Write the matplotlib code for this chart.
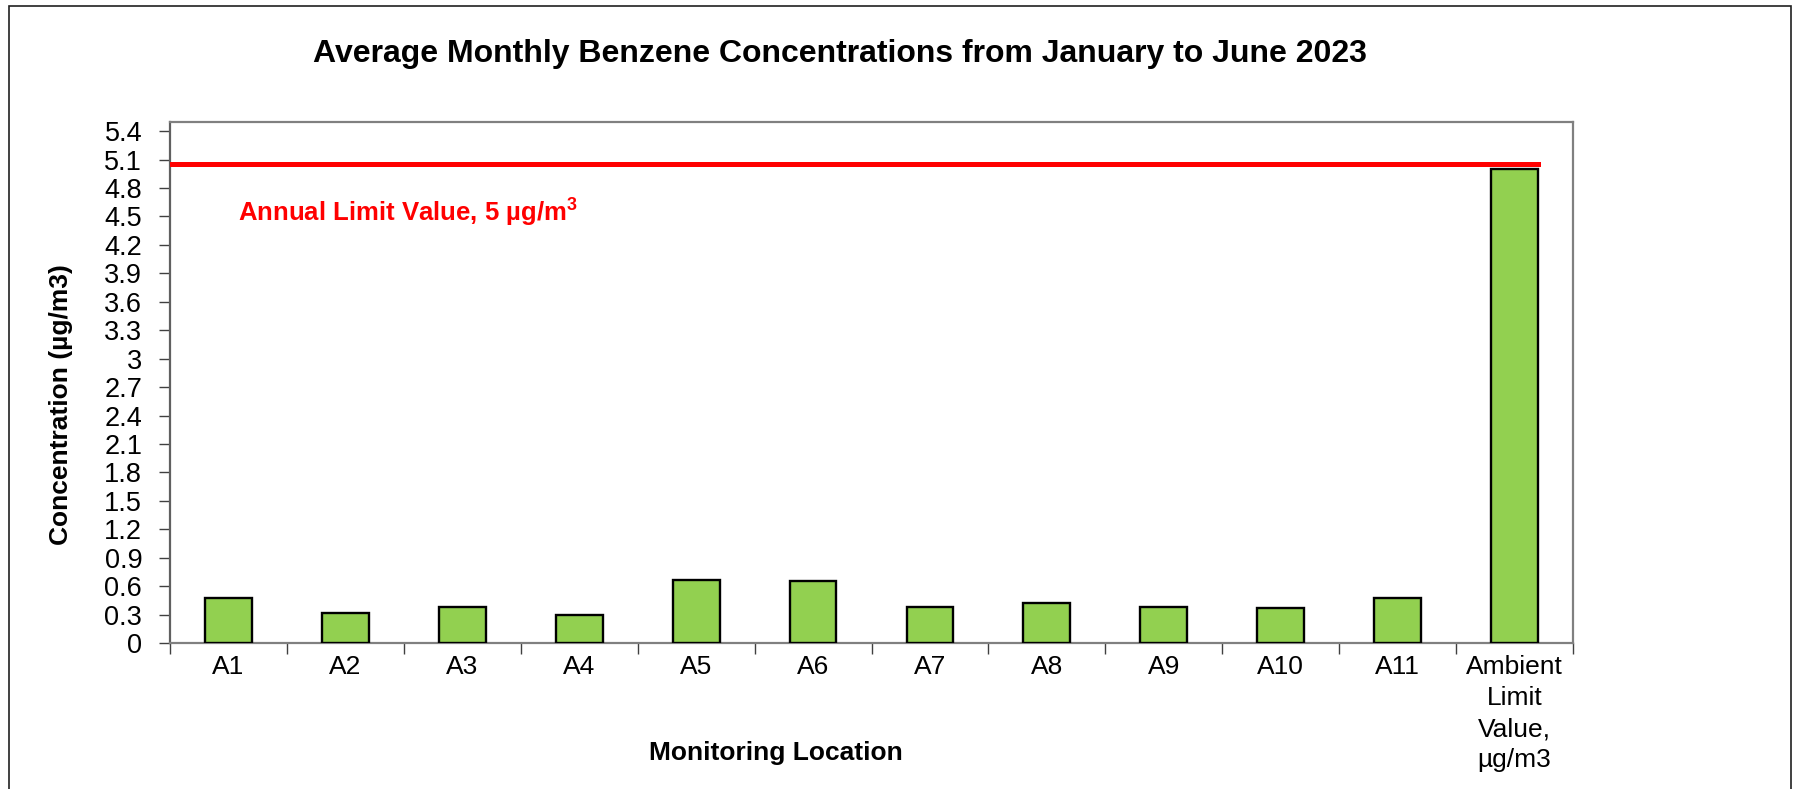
import matplotlib
matplotlib.use('Agg')
import matplotlib.pyplot as plt
import numpy as np
from matplotlib.patches import Rectangle

# ---- data ----
locations = ['A1', 'A2', 'A3', 'A4', 'A5', 'A6', 'A7', 'A8', 'A9', 'A10', 'A11',
             'Ambient\nLimit\nValue,\nµg/m3']
concentrations = [0.47, 0.32, 0.38, 0.30, 0.66, 0.65, 0.38, 0.42, 0.38, 0.37, 0.48, 5.0]
limit_line_value = 5.05
y_ticks = [0, 0.3, 0.6, 0.9, 1.2, 1.5, 1.8, 2.1, 2.4, 2.7, 3.0, 3.3, 3.6, 3.9,
           4.2, 4.5, 4.8, 5.1, 5.4]
title = 'Average Monthly Benzene Concentrations from January to June 2023'
x_label = 'Monitoring Location'
y_label = 'Concentration (µg/m3)'
limit_label = r'Annual Limit Value, 5 µg/m$^{\mathbf{3}}$'

plt.rcParams['font.family'] = ['Liberation Sans', 'DejaVu Sans']
plt.rcParams['mathtext.fontset'] = 'custom'
plt.rcParams['mathtext.rm'] = 'Liberation Sans'
plt.rcParams['mathtext.bf'] = 'Liberation Sans:bold'

W, H = 1798, 789
fig = plt.figure(figsize=(W / 100, H / 100), dpi=100)
ax_left, ax_right, ax_top, ax_bottom = 170, 1573, 121.7, 643
ax = fig.add_axes([ax_left / W, 1 - ax_bottom / H,
                   (ax_right - ax_left) / W, (ax_bottom - ax_top) / H])

x = np.arange(len(locations))
ax.bar(x, concentrations, width=0.4, color='#92D050', edgecolor='black',
       linewidth=1.7, zorder=3)
ax.axhline(limit_line_value, xmin=0, xmax=0.975, color='#FF0000',
           linewidth=3.6, zorder=4)

ax.set_xlim(-0.5, len(locations) - 0.5)
ax.set_ylim(0, 5.5)
ax.set_yticks(y_ticks)
ax.set_yticklabels([f'{v:g}' for v in y_ticks], fontsize=19.5)
ax.set_xticks(x)
ax.set_xticklabels(locations, fontsize=19, linespacing=1.36, va='top')
ax.set_xticks(np.arange(-0.5, len(locations), 1), minor=True)
ax.tick_params(axis='x', which='major', length=0, pad=9)
ax.tick_params(axis='x', which='minor', length=8, width=1, color='#404040')
ax.tick_params(axis='y', which='major', length=8, width=1, color='#404040', pad=12)

for side in ['left', 'right', 'top', 'bottom']:
    ax.spines[side].set_color('#808080')
    ax.spines[side].set_linewidth(1.6)
ax.spines['left'].set_color('#606060')

ax.text(0.0485, 0.827, limit_label, transform=ax.transAxes, color='#FF0000',
        fontsize=18.5, fontweight='bold', va='center', ha='left')

fig.text(840 / W, 1 - 54 / H, title, fontsize=23, fontweight='bold',
         ha='center', va='center')
fig.text(776 / W, 1 - 753 / H, x_label, fontsize=19, fontweight='bold',
         ha='center', va='center')
fig.text(61 / W, 1 - 405 / H, y_label, fontsize=19, fontweight='bold',
         ha='center', va='center', rotation=90)

fig.add_artist(Rectangle((9 / W, -0.02), (1791 - 9) / W, 1.02 - 6 / H,
                         transform=fig.transFigure, fill=False,
                         edgecolor='#202020', linewidth=1.2))

fig.savefig('out.png', dpi=100)
